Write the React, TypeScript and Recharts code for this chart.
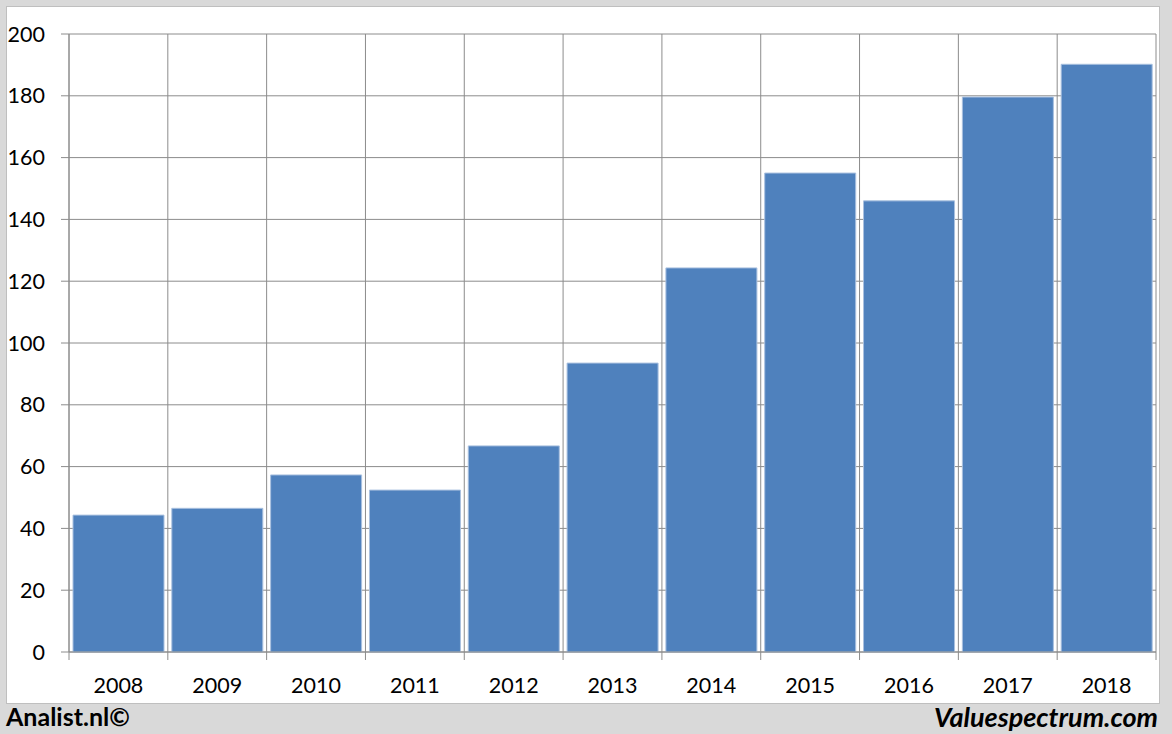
import React from "react";
import { Bar, BarChart, CartesianGrid, XAxis, YAxis } from "recharts";

const years = ["2008", "2009", "2010", "2011", "2012", "2013", "2014", "2015", "2016", "2017", "2018"];
const values = [44.3, 46.5, 57.3, 52.4, 66.7, 93.5, 124.3, 155, 146, 179.6, 190.2];
const yTicks = [0, 20, 40, 60, 80, 100, 120, 140, 160, 180, 200];

const data = years.map((year, i) => ({ year, value: values[i] }));

const W = 1172;
const H = 734;
const xAxisHeight = 30;
const margin = { top: 34, right: 16, bottom: 82 - xAxisHeight, left: 0 };
const yAxisWidth = 69;
const gridColor = "#8c8c8c";
const font = "Lato, 'Open Sans', sans-serif";

const plotWidth = W - margin.left - margin.right - yAxisWidth;
const band = plotWidth / years.length;

const XTick = ({ x, y, payload, index }: any) => {
  const left = x - band / 2;
  return (
    <g>
      <line x1={left} y1={y - 8} x2={left} y2={y} stroke={gridColor} />
      {index === years.length - 1 && (
        <line x1={x + band / 2} y1={y - 8} x2={x + band / 2} y2={y} stroke={gridColor} />
      )}
      <text x={x} y={y + 33} textAnchor="middle" fontSize={21.5} fontFamily={font} fill="#000">
        {payload.value}
      </text>
    </g>
  );
};

export default function App() {
  return (
    <div style={{ position: "absolute", left: 0, top: 0, width: W, height: H, background: "#d9d9d9" }}>
      <div
        style={{
          position: "absolute",
          left: 6,
          top: 6,
          width: 1152,
          height: 696,
          background: "#fff",
          border: "1px solid #bfbfbf",
        }}
      />
      <div style={{ position: "absolute", left: 0, top: 0 }}>
        <BarChart width={W} height={H} data={data} margin={margin} barCategoryGap={4}>
          <CartesianGrid
            stroke={gridColor}
            verticalCoordinatesGenerator={({ offset }: any) =>
              years.map((_, i) => offset.left + i * (offset.width / years.length)).concat(offset.left + offset.width)
            }
          />
          <XAxis
            dataKey="year"
            height={xAxisHeight}
            axisLine={{ stroke: gridColor }}
            tickLine={false}
            interval={0}
            tick={<XTick />}
          />
          <YAxis
            width={yAxisWidth}
            domain={[0, 200]}
            ticks={yTicks}
            interval={0}
            axisLine={{ stroke: gridColor }}
            tickLine={{ stroke: gridColor }}
            tickSize={8}
            tickMargin={16}
            tick={{ fontSize: 21.5, fontFamily: font, fill: "#000" }}
          />
          <Bar dataKey="value" fill="#4f81bd" stroke="#a9c0df" strokeWidth={1} isAnimationActive={false} />
        </BarChart>
      </div>
      <div
        style={{
          position: "absolute",
          left: 6,
          top: 701,
          fontFamily: font,
          fontWeight: 700,
          fontSize: 25,
          color: "#000",
        }}
      >
        Analist.nl©
      </div>
      <div
        style={{
          position: "absolute",
          right: 14,
          top: 700,
          fontFamily: font,
          fontWeight: 700,
          fontStyle: "italic",
          fontSize: 27,
          color: "#000",
        }}
      >
        Valuespectrum.com
      </div>
    </div>
  );
}
